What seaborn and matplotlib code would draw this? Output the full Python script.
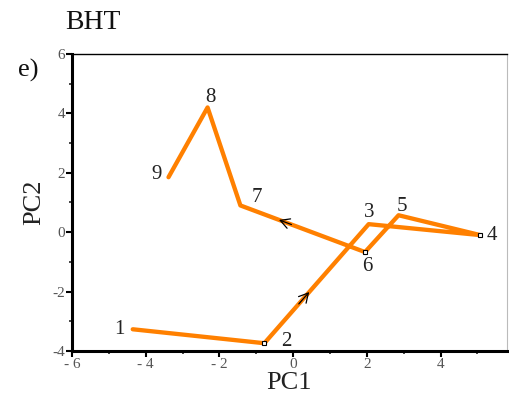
import matplotlib
matplotlib.use("Agg")
import matplotlib.pyplot as plt
import seaborn as sns
import numpy as np
import pandas as pd
from matplotlib.ticker import MultipleLocator

sns.set_theme(style="white")
plt.rcParams['font.family'] = ['Liberation Serif', 'DejaVu Serif']

labels = ["1", "2", "3", "4", "5", "6", "7", "8", "9"]
pc1 = [-4.35, -0.78, 2.05, 5.08, 2.86, 1.95, -1.43, -2.32, -3.38]
pc2 = [-3.27, -3.74, 0.27, -0.10, 0.57, -0.67, 0.90, 4.20, 1.85]
x_ticks = [-6, -4, -2, 0, 2, 4]
x_ticklabels = ["- 6", "- 4", "- 2", "0", "2", "4"]
y_ticks = [-4, -2, 0, 2, 4, 6]
y_ticklabels = ["-4", "-2", "0", "2", "4", "6"]

df = pd.DataFrame({"PC1": pc1, "PC2": pc2, "label": labels})

fig = plt.figure(figsize=(5.10, 3.97), dpi=100)
ax = fig.add_axes([0.141, 0.116, 0.853, 0.748])

sns.lineplot(data=df, x="PC1", y="PC2", sort=False, estimator=None,
             color="#FF8000", linewidth=3.1, ax=ax, zorder=2)

# small square markers
for i in [1, 3, 5]:
    ax.plot(pc1[i], pc2[i], marker="s", ms=3, mfc="white", mec="black", mew=0.8, zorder=3)

# direction arrows along segments
for seg, t in [(1, 0.38), (5, 0.64)]:
    x0, y0 = pc1[seg], pc2[seg]
    x1, y1 = pc1[seg + 1], pc2[seg + 1]
    xm, ym = x0 + t * (x1 - x0), y0 + t * (y1 - y0)
    dx, dy = (x1 - x0) * 0.05, (y1 - y0) * 0.05
    ax.annotate("", xy=(xm + dx, ym + dy), xytext=(xm - dx, ym - dy),
                arrowprops=dict(arrowstyle="->,head_length=0.55,head_width=0.3",
                                color="black", lw=0.9, shrinkA=0, shrinkB=0),
                zorder=4)

offsets = {"1": (-0.22, 0.0, "right", "center"),
           "2": (0.46, 0.05, "left", "center"),
           "3": (0.0, 0.38, "center", "center"),
           "4": (0.16, -0.02, "left", "center"),
           "5": (0.1, 0.3, "center", "center"),
           "6": (0.05, -0.48, "center", "center"),
           "7": (0.45, 0.28, "center", "center"),
           "8": (0.08, 0.33, "center", "center"),
           "9": (-0.17, 0.08, "right", "center")}
for x, y, lab in zip(pc1, pc2, labels):
    dx, dy, ha, va = offsets[lab]
    ax.text(x + dx, y + dy, lab, fontsize=15, ha=ha, va=va, color="#222222")

ax.set_xlim(-6, 5.8)
ax.set_ylim(-4, 6)
ax.set_xticks(x_ticks)
ax.set_xticklabels(x_ticklabels)
ax.set_yticks(y_ticks)
ax.set_yticklabels(y_ticklabels)
ax.xaxis.set_minor_locator(MultipleLocator(1))
ax.yaxis.set_minor_locator(MultipleLocator(1))
ax.tick_params(axis="both", which="major", direction="out", length=4, width=1.5,
               labelsize=11, colors="black", labelcolor="#555555", pad=1,
               bottom=True, left=True)
ax.tick_params(axis="both", which="minor", direction="out", length=2.5, width=1.2,
               bottom=True, left=True)

for side in ["left", "bottom"]:
    ax.spines[side].set_linewidth(2.2)
    ax.spines[side].set_color("black")
ax.spines["top"].set_linewidth(1.0)
ax.spines["top"].set_color("black")
ax.spines["right"].set_linewidth(0.8)
ax.spines["right"].set_color("#bbbbbb")

ax.set_xlabel("PC1", fontsize=19, color="#222222", labelpad=1)
ax.set_ylabel("PC2", fontsize=19, color="#222222", labelpad=5)

fig.text(0.128, 0.927, "BHT", fontsize=20, color="#111111", ha="left", va="baseline")
fig.text(0.035, 0.823, "e)", fontsize=19, color="#111111", ha="left", va="center")

fig.savefig("out.png", dpi=100)
